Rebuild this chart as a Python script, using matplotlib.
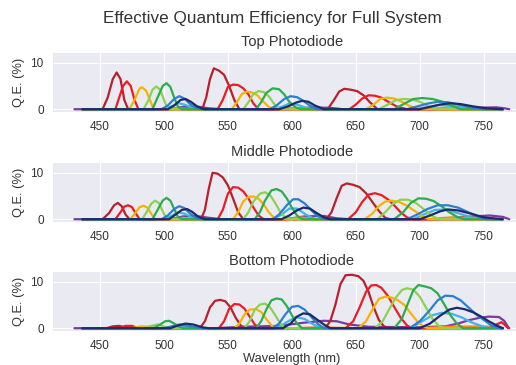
import matplotlib
matplotlib.use("Agg")
import matplotlib.pyplot as plt
import seaborn as sns

sns.set_style("darkgrid")
plt.rcParams['font.family'] = ['Liberation Sans', 'DejaVu Sans']

# ---------------- data (wavelength nm, Q.E. %) ----------------
DIODES = ["Top Photodiode", "Middle Photodiode", "Bottom Photodiode"]
CHANNELS = ["purple", "orange", "cyan", "darkred", "red", "yellow", "yellowgreen", "green", "blue", "navy"]
COLORS = ["#7b3a9e", "#ff8a1c", "#3fb6e6", "#b8202c", "#ec1c24", "#f6b400", "#8fd14f", "#2aae4a", "#2b7fd0", "#1d2b68"]

TOP_PURPLE = [(430,0),(505,0),(515,0.5),(525,0.6),(535,0.2),(545,0),(600,0),(615,0.4),(630,0.3),(640,0),(720,0),(740,0.3),(760,0.4),(766,0.2),(770,0)]
TOP_ORANGE = [(436,0),(500,0),(510,0.3),(520,0),(590,0),(600,0.3),(615,0),(700,0),(720,0.3),(740,0.2),(760,0),(765,0)]
TOP_CYAN = [(436,0),(500,0),(506,0.6),(511,1.3),(516,1.0),(522,0.3),(527,0),(585,0),(592,0.5),(598,1.2),(604,1.0),(611,0.3),(617,0),(695,0),(705,0.4),(715,0.9),(725,0.7),(737,0.2),(748,0),(765,0)]
TOP_DARKRED = [(436,0),(452,0),(456,2.5),(460,6.5),(463,7.9),(466,6.5),(469,2),(472,0),(530,0),(533,2.5),(536,6.5),(539,8.8),(543,8.3),(547,7.4),(551,5),(555,2),(559,0),(628,0),(633,2),(637,3.8),(641,4.4),(646,4.2),(651,3.9),(656,3),(661,1.5),(667,0),(765,0)]
TOP_RED = [(436,0),(462,0),(465,2.5),(468,5),(471,6.0),(474,5),(477,2),(480,0),(542,0),(546,2),(550,4.8),(554,5.3),(558,5.2),(562,4.5),(566,3.2),(570,1.2),(574,0),(645,0),(650,1),(655,2.3),(660,3.0),(665,2.9),(670,2.5),(676,1.5),(682,0.6),(690,0),(765,0)]
TOP_YELLOW = [(436,0),(473,0),(477,2),(481,4.5),(483,4.7),(486,4),(489,2),(492,0),(553,0),(557,1.5),(561,3.3),(565,3.8),(569,3.6),(573,3),(577,1.8),(582,0.5),(587,0),(658,0),(664,1),(669,2.2),(674,2.5),(680,2.3),(686,1.6),(692,0.7),(700,0),(765,0)]
TOP_YELLOWGREEN = [(436,0),(484,0),(488,2),(491,4.2),(494,4.9),(497,4.2),(500,2),(503,0),(562,0),(566,1.5),(570,3.3),(574,3.9),(578,3.7),(582,2.8),(586,1.2),(590,0),(668,0),(675,1),(681,1.9),(687,2.2),(694,2.1),(700,1.6),(706,0.8),(712,0),(765,0)]
TOP_GREEN = [(436,0),(491,0),(495,2.5),(499,5.0),(502,5.6),(505,4.8),(508,2.5),(511,0.5),(514,0),(572,0),(576,1.5),(580,3.5),(585,4.5),(590,4.3),(594,3.2),(598,1.6),(603,0.4),(607,0),(680,0),(688,1.2),(695,2.2),(702,2.4),(710,2.2),(718,1.6),(725,0.8),(732,0),(765,0)]
TOP_BLUE = [(436,0),(498,0),(503,0.8),(508,2.2),(512,2.8),(516,2.3),(520,1.2),(525,0.3),(530,0),(583,0),(588,0.8),(594,2.2),(599,2.8),(604,2.6),(609,1.8),(614,0.8),(620,0),(690,0),(698,0.6),(706,1.2),(714,1.6),(722,1.5),(730,1.0),(740,0.4),(750,0),(765,0)]
TOP_NAVY = [(436,0),(503,0),(508,0.8),(513,2.0),(517,2.2),(521,1.6),(526,0.6),(531,0),(590,0),(597,0.6),(603,1.4),(608,1.8),(613,1.6),(618,0.8),(625,0),(700,0),(708,0.5),(716,1.0),(724,1.3),(732,1.1),(742,0.6),(752,0.2),(765,0)]

MID_PURPLE = [(430,0),(505,0),(515,0.6),(525,0.7),(535,0.3),(545,0),(595,0),(610,0.6),(625,0.7),(635,0.2),(645,0),(715,0),(735,0.5),(755,0.8),(765,0.5),(770,0)]
MID_ORANGE = [(436,0),(505,0),(515,0.3),(525,0),(595,0),(607,0.4),(620,0),(705,0),(725,0.4),(745,0.3),(760,0),(765,0)]
MID_CYAN = [(436,0),(500,0),(506,0.7),(511,1.5),(516,1.2),(522,0.4),(527,0),(585,0),(592,1),(598,2.3),(604,2.3),(611,1.0),(618,0),(695,0),(703,1),(712,2.0),(720,2.1),(730,1.3),(740,0.4),(748,0),(765,0)]
MID_DARKRED = [(436,0),(452,0),(457,1.3),(461,3.0),(464,3.5),(467,2.8),(470,1),(473,0),(529,0),(532,2),(535,6.5),(538,10.0),(542,9.8),(546,9.0),(550,7.3),(554,4.5),(558,1.5),(562,0),(627,0),(631,1.5),(635,4.5),(639,7.2),(643,7.7),(648,7.4),(653,6.9),(658,5.6),(663,3.7),(668,1.8),(673,0.3),(677,0),(765,0)]
MID_RED = [(436,0),(462,0),(466,1.5),(469,2.7),(472,3.0),(475,2.6),(478,1.2),(481,0),(542,0),(546,2),(550,5.5),(554,6.9),(558,6.8),(562,6),(566,4.5),(570,2.5),(574,0.8),(578,0),(644,0),(650,1.5),(655,3.7),(660,5.3),(665,5.6),(670,5.2),(675,4.3),(680,3.0),(685,1.5),(690,0.4),(695,0),(765,0)]
MID_YELLOW = [(436,0),(474,0),(478,1.5),(481,2.6),(484,2.9),(487,2.5),(490,1.2),(493,0),(554,0),(558,1.5),(562,3.8),(566,4.8),(570,4.9),(574,4.4),(578,3.2),(582,1.5),(586,0.3),(589,0),(657,0),(663,1.2),(668,2.8),(673,3.8),(678,4.0),(684,3.7),(690,2.9),(696,1.8),(702,0.6),(707,0),(765,0)]
MID_YELLOWGREEN = [(436,0),(483,0),(487,1.8),(490,3.3),(493,4.0),(496,3.5),(499,1.8),(502,0),(562,0),(566,1.5),(570,3.8),(575,5.5),(579,5.8),(583,5.2),(587,3.5),(591,1.5),(595,0.3),(598,0),(667,0),(673,1.5),(679,3.3),(685,4.2),(691,4.2),(697,3.5),(703,2.2),(709,0.8),(715,0),(765,0)]
MID_GREEN = [(436,0),(491,0),(495,2),(499,4.0),(502,4.6),(505,4.0),(508,2.2),(511,0.5),(514,0),(571,0),(575,1.5),(579,4.0),(584,6.2),(588,6.5),(592,6.0),(596,4.5),(600,2.5),(604,0.8),(608,0),(680,0),(687,1.5),(693,3.5),(699,4.5),(705,4.4),(711,3.9),(717,2.8),(723,1.5),(730,0.4),(735,0),(765,0)]
MID_BLUE = [(436,0),(498,0),(503,0.8),(508,2.2),(512,2.8),(516,2.4),(520,1.3),(525,0.3),(530,0),(585,0),(590,1),(596,3),(601,4.3),(605,4.3),(610,3.4),(615,2),(620,0.7),(626,0),(690,0),(698,1),(706,2.2),(714,3.0),(722,3.0),(730,2.5),(738,1.5),(746,0.5),(752,0),(765,0)]
MID_NAVY = [(436,0),(504,0),(509,1.0),(514,2.0),(518,2.2),(522,1.6),(527,0.5),(532,0),(592,0),(598,0.8),(604,1.9),(609,2.5),(614,2.3),(619,1.4),(625,0.4),(630,0),(700,0),(708,0.8),(716,1.7),(722,2.1),(730,1.9),(740,1.2),(750,0.4),(765,0)]

BOT_PURPLE = [(430,0),(540,0),(560,0.3),(590,0.5),(610,1.2),(625,1.6),(635,1.5),(645,0.8),(660,0.3),(700,0.2),(720,0.4),(730,1.0),(738,1.7),(746,2.2),(754,2.5),(762,2.4),(766,1.6),(769,0.3),(770,0)]
BOT_ORANGE = [(436,0),(600,0),(620,0.2),(650,0),(700,0),(720,0.3),(745,0.4),(760,0.3),(765,0)]
BOT_CYAN = [(436,0),(505,0),(512,0.4),(518,0.5),(525,0.1),(530,0),(588,0),(596,1.3),(603,2.4),(610,2),(617,0.8),(623,0),(693,0),(702,1.5),(710,2.8),(717,3.3),(725,3.1),(733,2.3),(741,1.2),(749,0.4),(755,0),(765,0)]
BOT_DARKRED = [(436,0),(455,0),(460,0.4),(465,0.5),(470,0.2),(475,0),(528,0),(532,1.5),(536,4.5),(540,5.9),(544,6.1),(548,5.8),(552,4.5),(556,2.3),(560,0.6),(563,0),(626,0),(630,1.5),(634,5),(638,9.5),(642,11.4),(647,11.5),(652,11.2),(656,10.2),(660,7.8),(664,4.5),(668,1.8),(672,0.4),(676,0),(765,0)]
BOT_RED = [(436,0),(465,0),(470,0.5),(475,0.5),(480,0),(543,0),(547,1.5),(551,4.2),(555,5.2),(559,5.1),(563,4.2),(567,2.5),(571,0.8),(575,0),(642,0),(648,1.5),(653,4.5),(658,7.8),(662,9.2),(666,9.3),(670,8.7),(675,7),(680,4.6),(685,2.3),(690,0.6),(694,0),(755,0),(760,0.8),(764,1.3),(767,0.6),(769,0)]
BOT_YELLOW = [(436,0),(475,0),(482,0.4),(490,0.3),(495,0),(555,0),(559,1),(563,3),(567,4.0),(572,4.1),(576,3.5),(580,2),(584,0.6),(588,0),(652,0),(658,1.5),(663,4),(668,6.3),(673,6.8),(678,6.6),(683,6.0),(688,5),(693,3.2),(698,1.5),(703,0.3),(707,0),(765,0)]
BOT_YELLOWGREEN = [(436,0),(485,0),(490,0.5),(495,0.8),(500,0.4),(505,0),(563,0),(567,1.5),(571,4),(575,5.1),(579,5.3),(583,4.5),(587,2.8),(591,1),(595,0),(665,0),(671,1.5),(676,4),(681,6.5),(686,8.2),(690,8.6),(695,8.3),(700,6.8),(705,4.4),(710,2),(715,0.5),(719,0),(765,0)]
BOT_GREEN = [(436,0),(492,0),(497,0.8),(501,1.5),(504,1.6),(508,1.0),(512,0.3),(515,0),(572,0),(576,1.5),(580,4),(584,6.0),(588,6.4),(592,6.2),(596,4.8),(600,2.8),(604,1),(608,0),(680,0),(686,2),(691,5.5),(695,8.2),(699,9.3),(704,9.0),(709,8.6),(714,7.5),(719,5.2),(724,2.8),(729,1),(734,0),(765,0)]
BOT_BLUE = [(436,0),(500,0),(506,0.4),(512,0.8),(518,0.6),(525,0.2),(530,0),(585,0),(590,1),(595,3),(600,4.6),(605,4.8),(610,4.0),(615,2.5),(620,1),(625,0),(692,0),(700,1.5),(707,3.6),(714,6),(720,7.0),(726,6.9),(732,6),(738,4.5),(744,3),(750,1.8),(756,0.6),(762,0),(765,0)]
BOT_NAVY = [(436,0),(505,0),(511,0.6),(517,1.0),(523,0.8),(530,0.2),(535,0),(593,0),(599,1),(604,2.5),(609,3.2),(614,3.0),(619,2.0),(625,0.8),(630,0),(700,0),(708,1),(716,2.7),(723,4.0),(729,4.4),(735,4.1),(742,3.4),(748,2.5),(754,1.5),(760,0.6),(765,0)]

CURVES = [
    [TOP_PURPLE, TOP_ORANGE, TOP_CYAN, TOP_DARKRED, TOP_RED, TOP_YELLOW, TOP_YELLOWGREEN, TOP_GREEN, TOP_BLUE, TOP_NAVY],
    [MID_PURPLE, MID_ORANGE, MID_CYAN, MID_DARKRED, MID_RED, MID_YELLOW, MID_YELLOWGREEN, MID_GREEN, MID_BLUE, MID_NAVY],
    [BOT_PURPLE, BOT_ORANGE, BOT_CYAN, BOT_DARKRED, BOT_RED, BOT_YELLOW, BOT_YELLOWGREEN, BOT_GREEN, BOT_BLUE, BOT_NAVY],
]
XTICKS = [450, 500, 550, 600, 650, 700, 750]
YTICKS = [0, 10]

# ---------------- figure ----------------
W, H = 516, 365
fig = plt.figure(figsize=(W / 100, H / 100), dpi=100)
text_col = "#333333"

left = 52.7 / W
width = (531 - 52.7) / W
ax_tops = [53, 163, 272]
ax_h = 59
axes = []
for i, top in enumerate(ax_tops):
    ax = fig.add_axes([left, 1 - (top + ax_h) / H, width, ax_h / H])
    axes.append(ax)

for i, ax in enumerate(axes):
    for pts, col in zip(CURVES[i], COLORS):
        xs = [p[0] for p in pts]
        ys = [p[1] for p in pts]
        ax.plot(xs, ys, color=col, lw=1.6, solid_joinstyle="round", solid_capstyle="round")
    ax.set_xlim(413, 787)
    ax.set_ylim(-0.6, 12.1)
    ax.set_xticks(XTICKS)
    ax.set_yticks(YTICKS)
    ax.tick_params(axis="both", labelsize=8.5, labelcolor=text_col, pad=3)
    ax.set_title(DIODES[i], fontsize=10.5, color=text_col, pad=5)
    ax.set_ylabel("Q.E. (%)", fontsize=9.3, color=text_col, labelpad=4)
    for s in ax.spines.values():
        s.set_visible(False)

axes[-1].set_xlabel("Wavelength (nm)", fontsize=9.3, color=text_col, labelpad=1)
fig.suptitle("Effective Quantum Efficiency for Full System", x=272 / W, y=1 - 19 / H,
             va="center", fontsize=12.3, color=text_col)

fig.savefig("out.png", dpi=100)
